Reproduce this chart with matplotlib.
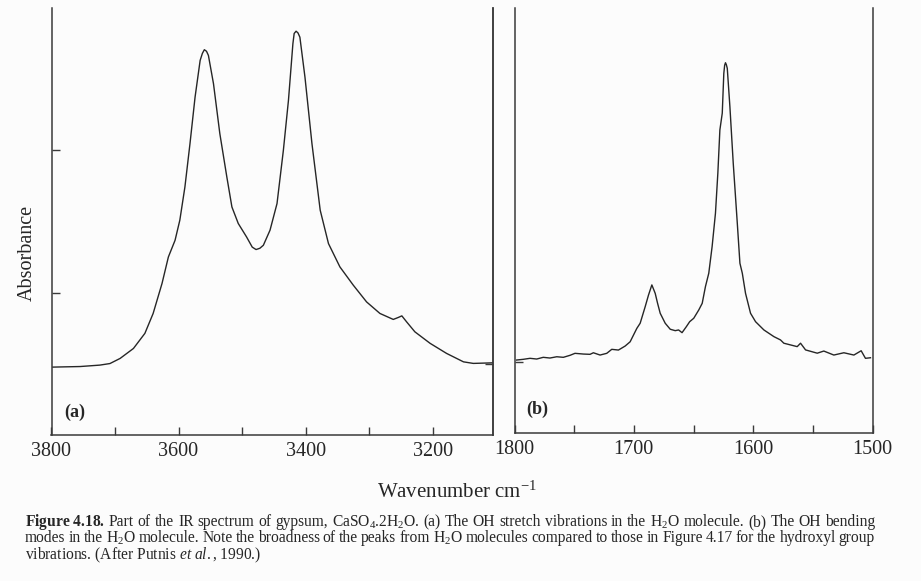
import re
import matplotlib
matplotlib.use("Agg")
import matplotlib.pyplot as plt
from matplotlib.ticker import FixedLocator, NullFormatter

plt.rcParams["font.family"] = ["Liberation Serif", "DejaVu Serif"]
plt.rcParams["mathtext.fontset"] = "custom"
plt.rcParams["mathtext.rm"] = "Liberation Serif"
plt.rcParams["mathtext.it"] = "Liberation Serif:italic"
plt.rcParams["mathtext.bf"] = "Liberation Serif:bold"

# (a) OH stretching region, wavenumber (cm-1) and absorbance (arb. units)
stretch_wn = [3798, 3755, 3724, 3708, 3692, 3671, 3653, 3640, 3626, 3616,
              3605.5, 3598, 3590, 3582, 3574, 3566, 3562.5, 3559.4, 3556, 3553,
              3545, 3535, 3524, 3516, 3506, 3493, 3484, 3478, 3472, 3466.5,
              3456, 3445, 3435, 3427, 3420, 3418, 3415, 3412, 3409, 3401,
              3390, 3377, 3364, 3346, 3325, 3304, 3283, 3262, 3254, 3248.5,
              3241, 3228, 3204, 3178, 3151.5, 3136, 3105]
stretch_abs = [0.477, 0.481, 0.491, 0.502, 0.538, 0.608, 0.714, 0.854, 1.065, 1.251,
               1.368, 1.509, 1.742, 2.047, 2.374, 2.632, 2.681, 2.707, 2.696, 2.667,
               2.468, 2.117, 1.813, 1.602, 1.486, 1.392, 1.320, 1.303, 1.312, 1.333,
               1.439, 1.626, 2.000, 2.351, 2.749, 2.821, 2.837, 2.825, 2.795, 2.514,
               2.047, 1.579, 1.345, 1.181, 1.053, 0.935, 0.854, 0.812, 0.826, 0.837,
               0.795, 0.725, 0.644, 0.573, 0.514, 0.503, 0.507]

# (b) H-O-H bending region
bend_wn = [1798.2, 1792.6, 1787.0, 1781.4, 1775.9, 1770.3, 1764.6, 1759.1, 1753.5, 1749.3,
           1742.3, 1736.7, 1733.9, 1728.3, 1722.7, 1718.5, 1712.9, 1707.3, 1703.1, 1700.3,
           1697.5, 1694.7, 1690.5, 1687.7, 1684.9, 1682.1, 1680.1, 1677.9, 1673.7, 1669.5,
           1665.3, 1662.5, 1659.6, 1656.0, 1653.2, 1649.8, 1645.6, 1642.7, 1640.0, 1637.2,
           1634.4, 1631.6, 1629.6, 1627.9, 1625.9, 1624.6, 1623.9, 1623.2, 1622.5, 1621.7,
           1619.5, 1616.7, 1613.3, 1611.1, 1609.1, 1606.4, 1602.2, 1598.0, 1591.0, 1582.6,
           1577.1, 1574.3, 1563.1, 1560.3, 1556.1, 1546.3, 1540.8, 1532.4, 1524.0, 1515.6,
           1509.5, 1505.9, 1501.7]
bend_abs = [0.512, 0.517, 0.524, 0.519, 0.531, 0.526, 0.535, 0.531, 0.545, 0.559,
            0.554, 0.552, 0.563, 0.547, 0.559, 0.587, 0.582, 0.610, 0.640, 0.687,
            0.734, 0.770, 0.886, 0.968, 1.039, 0.980, 0.910, 0.840, 0.770, 0.728,
            0.718, 0.723, 0.704, 0.746, 0.781, 0.805, 0.863, 0.910, 1.027, 1.121,
            1.308, 1.542, 1.823, 2.126, 2.244, 2.523, 2.580, 2.598, 2.585, 2.559,
            2.290, 1.893, 1.472, 1.191, 1.121, 0.980, 0.840, 0.781, 0.723, 0.676,
            0.653, 0.630, 0.606, 0.630, 0.583, 0.560, 0.575, 0.547, 0.563, 0.547,
            0.577, 0.524, 0.528]

stretch_major = [3800, 3600, 3400, 3200]
stretch_minor = [3700, 3500, 3300]
bend_major = [1800, 1700, 1600, 1500]
bend_minor = [1750, 1650, 1550]

caption = [
    r"$\mathbf{Figure\ 4.18.}$ Part of the IR spectrum of gypsum, CaSO$_4$.2H$_2$O. "
    r"(a) The OH stretch vibrations in the H$_2$O molecule. (b) The OH bending",
    r"modes in the H$_2$O molecule. Note the broadness of the peaks from H$_2$O "
    r"molecules compared to those in Figure 4.17 for the hydroxyl group",
    r"vibrations. (After Putnis $\mathit{et\ al.}$, 1990.)",
]

W, H = 921, 581
ink = "#262626"
paper = "#fcfcfc"

fig = plt.figure(figsize=(W / 100, H / 100), dpi=100, facecolor=paper)


def px_axes(x0, x1, ybot, ytop):
    return fig.add_axes([x0 / W, 1 - ybot / H, (x1 - x0) / W, (ybot - ytop) / H])


ax_a = px_axes(51.5, 493, 435, 8)
ax_b = px_axes(514.5, 872.5, 433, 8)

for ax in (ax_a, ax_b):
    ax.set_facecolor("none")
    ax.spines["top"].set_visible(False)
    for s in ("left", "right", "bottom"):
        ax.spines[s].set_color("#3a3a3a")
        ax.spines[s].set_linewidth(1.1)
    ax.tick_params(axis="x", which="both", direction="in", length=6, width=1.0,
                   color="#3a3a3a", labelsize=14.5, labelcolor=ink, pad=5)
    ax.tick_params(axis="y", which="both", direction="in", length=6, width=1.0,
                   color="#3a3a3a", labelleft=False)

ax_a.plot(stretch_wn, stretch_abs, color=ink, lw=1.0)
ax_a.set_xlim(3800, 3105)
ax_a.set_ylim(0, 3.0)
ax_a.xaxis.set_major_locator(FixedLocator(stretch_major))
ax_a.xaxis.set_minor_locator(FixedLocator(stretch_minor))
ax_a.xaxis.set_minor_formatter(NullFormatter())
ax_a.set_yticks([1, 2])
sec_a = ax_a.secondary_yaxis("right")
sec_a.set_yticks([0.5])
sec_a.tick_params(direction="in", length=6, width=1.0, color="#3a3a3a", labelright=False)
sec_a.spines["right"].set_color("#3a3a3a")
sec_a.spines["right"].set_linewidth(1.1)

ax_b.plot(bend_wn, bend_abs, color=ink, lw=1.0)
ax_b.set_xlim(1800, 1500)
ax_b.set_ylim(0, 2.982)
ax_b.xaxis.set_major_locator(FixedLocator(bend_major))
ax_b.xaxis.set_minor_locator(FixedLocator(bend_minor))
ax_b.xaxis.set_minor_formatter(NullFormatter())
ax_b.set_yticks([0.5])

fig.text(75 / W, 1 - 412 / H, "(a)", fontsize=13, fontweight="bold", color=ink,
         ha="center", va="center")
fig.text(537 / W, 1 - 409 / H, "(b)", fontsize=13, fontweight="bold", color=ink,
         ha="center", va="center")

fig.text(27 / W, 1 - 253 / H, "Absorbance", fontsize=14.5, color=ink,
         rotation=90, ha="center", va="center")
fig.text(457 / W, 1 - 492 / H, "Wavenumber cm$^{-1}$", fontsize=15, color=ink,
         ha="center", va="center")

# Caption: first two lines are justified between x0 and x1 (pixels)
renderer = fig.canvas.get_renderer()
x0, x1 = 25, 875
cap_size = 11.2
for i, line in enumerate(caption):
    y = 1 - (522 + 16.5 * i) / H
    if i == len(caption) - 1:
        fig.text(x0 / W, y, line, fontsize=cap_size, color=ink, ha="left", va="center")
        continue
    words = re.split(r"(?<!\\) ", line)
    items = [fig.text(0, y, w, fontsize=cap_size, color=ink, ha="left", va="center")
             for w in words]
    widths = [t.get_window_extent(renderer).width for t in items]
    gap = (x1 - x0 - sum(widths)) / (len(words) - 1)
    xpos = x0
    for t, wdt in zip(items, widths):
        t.set_x(xpos / W)
        xpos += wdt + gap

fig.savefig("out.png", dpi=100, facecolor=paper)
